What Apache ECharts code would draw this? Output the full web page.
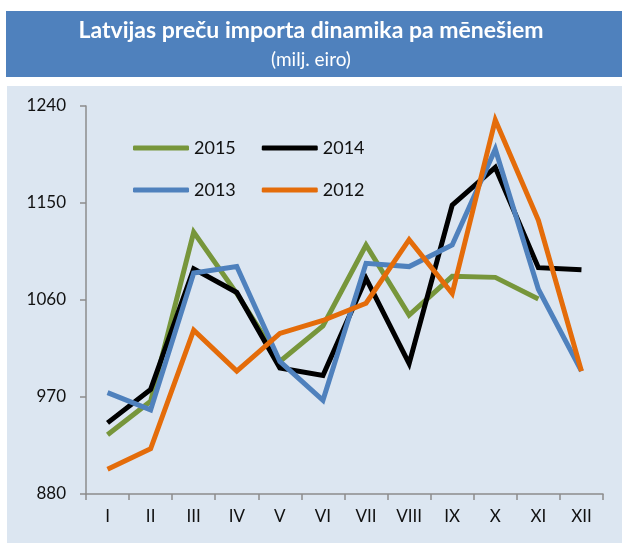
<!DOCTYPE html>
<html><head><meta charset="utf-8">
<script src="https://cdn.jsdelivr.net/npm/echarts@6/dist/echarts.min.js"></script>
<style>html,body{margin:0;padding:0;background:#fff}#c{width:622px;height:543px}</style>
</head><body><div id="c"></div>
<script>
const months = ['I','II','III','IV','V','VI','VII','VIII','IX','X','XI','XII'];
const yTicks = [880, 970, 1060, 1150, 1240];
const s2015 = [935, 966, 1123, 1066, 1003, 1036, 1111, 1046, 1082, 1081, 1061, null];
const s2014 = [946, 977, 1089, 1067, 997, 990, 1080, 1001, 1148, 1183, 1090, 1088];
const s2013 = [974, 958, 1085, 1091, 1003, 967, 1094, 1091, 1111, 1200, 1070, 994];
const s2012 = [903, 922, 1032, 994, 1029, 1041, 1057, 1116, 1066, 1227, 1134, 994];

const chart = echarts.init(document.getElementById('c'));
const font = 'Lato, "Open Sans", sans-serif';
function mk(name, data, color){
  return {name, type:'line', data, showSymbol:false, symbol:'none', animation:false,
    lineStyle:{color, width:5, join:'miter'}, itemStyle:{color}, connectNulls:false};
}
const legText = {fontSize:18, fontFamily:font, color:'#111'};
chart.setOption({
  animation:false,
  graphic:[
    {type:'rect', shape:{x:6,y:11,width:616,height:66}, style:{fill:'#4F81BD'}, z:-10},
    {type:'rect', shape:{x:7,y:86,width:615,height:457}, style:{fill:'#DCE6F1'}, z:-10},
    {type:'text', left:'center', top:19, style:{text:'Latvijas preču importa dinamika pa mēnešiem', fill:'#fff', font:'bold 23px '+font}},
    {type:'text', left:'center', top:50, style:{text:'(milj. eiro)', fill:'#fff', font:'19px '+font}}
  ],
  grid:{left:86, right:19, top:106, bottom:49},
  legend:[
    {data:['2015','2014'], left:128, top:134, itemWidth:56, itemHeight:5, itemGap:26, icon:'roundRect',
      textStyle:legText},
    {data:['2013','2012'], left:128, top:176, itemWidth:56, itemHeight:5, itemGap:26, icon:'roundRect',
      textStyle:legText}
  ],
  xAxis:{type:'category', data:months, boundaryGap:true,
    axisLine:{lineStyle:{color:'#8c8c8c', width:1.5}},
    axisTick:{show:true, length:6, lineStyle:{color:'#8c8c8c', width:1.5}},
    axisLabel:{fontSize:17, fontFamily:font, color:'#111', margin:14}},
  yAxis:{type:'value', min:yTicks[0], max:yTicks[yTicks.length-1], interval:yTicks[1]-yTicks[0],
    splitLine:{show:false},
    axisLine:{show:true, lineStyle:{color:'#8c8c8c', width:1.5}},
    axisTick:{show:true, length:6, lineStyle:{color:'#8c8c8c', width:1.5}},
    axisLabel:{fontSize:17, fontFamily:font, color:'#111', margin:20, formatter:v=>String(v)}},
  series:[mk('2015', s2015, '#77963B'), mk('2014', s2014, '#000000'), mk('2013', s2013, '#4F81BD'), mk('2012', s2012, '#E46C0A')]
});
</script></body></html>
